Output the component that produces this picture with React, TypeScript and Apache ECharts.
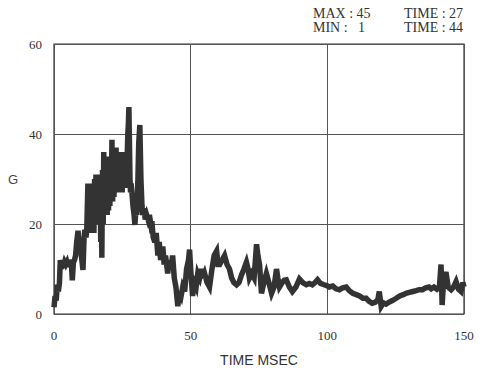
import React, { useEffect, useRef } from "react";
import * as echarts from "echarts";

const timeMs: number[] = [
  0, 0.4, 0.8, 1.2, 1.6, 2.0, 2.3, 2.7, 3.1, 3.5, 3.9, 4.3, 4.7, 5.1, 5.5, 5.9, 6.3, 6.7, 7.1, 7.5,
  7.9, 8.3, 8.8, 9.2, 9.6, 10.0, 10.6, 11.0, 11.3, 11.7,
  12.0, 12.2, 12.4, 12.6, 12.85, 13.1, 13.35, 13.6, 13.85, 14.1, 14.35, 14.6, 14.85, 15.1, 15.35, 15.6, 15.85, 16.1, 16.35, 16.6,
  16.85, 17.1, 17.35, 17.5, 17.75, 18.0, 18.2, 18.45, 18.7, 18.95, 19.2, 19.45, 19.7, 19.95, 20.2, 20.45, 20.7, 20.95, 21.2, 21.45,
  21.7, 21.95, 22.2, 22.45, 22.7, 22.95, 23.2, 23.45, 23.7, 23.95, 24.2, 24.45, 24.7, 24.95, 25.2, 25.45, 25.7, 25.95, 26.2, 26.45,
  26.7, 27.0, 27.2, 27.4, 27.6, 27.8, 28.0, 28.2, 28.5, 28.9, 29.3, 29.6, 30.0, 30.3, 30.7, 31.0, 31.4,
  31.8, 32.2, 32.5, 32.9, 33.4, 33.9, 34.4, 34.9, 35.4, 35.8, 36.3, 36.9, 37.4, 38.0, 38.5, 39.0, 39.8, 40.3, 40.8, 41.6,
  42.2, 42.8, 43.4, 44.0, 44.6, 45.3, 45.8, 46.5, 47.1, 47.8, 48.5, 49.2, 49.6, 50.1, 50.7, 51.3, 52.0, 52.6, 53.3, 54.0,
  54.5, 55.1, 56.0, 56.9, 57.8, 58.6, 59.5, 60.0, 60.6, 61.5, 62.4, 63.3, 64.2, 65.0, 65.8, 66.8, 67.7, 68.6, 69.5, 70.4,
  71.0, 71.5, 72.3, 73.2, 74.1, 74.6, 75.2, 75.9, 76.8, 77.7, 78.6, 79.6, 80.5, 81.4, 81.9, 82.5, 83.5, 84.2, 85.0, 86.1,
  87.2, 88.5, 89.8, 91.0, 92.3, 93.4, 94.5, 95.5, 96.4, 97.5, 98.8, 99.8, 100.7, 102.0, 103.2, 104.4, 105.6, 106.9, 108.0, 109.3,
  110.6, 111.8, 113.0, 114.2, 115.3, 116.4, 117.5, 118.5, 119.0, 119.7, 120.5, 121.5, 122.5, 123.8, 125.2, 126.5, 127.8, 128.8, 130.0, 131.3,
  132.5, 133.6, 134.8, 136.0, 137.2, 138.0, 139.0, 140.1, 141.0, 141.6, 142.0, 142.6, 143.4, 144.2, 145.3, 146.2, 147.1, 148.0, 148.9, 149.6,
  150,
];

const gValues: number[] = [
  1.5, 4, 3, 6.5, 5, 7, 12, 10, 12, 10.5, 11.5, 11, 11.5, 10.5, 12, 11, 12, 7.5, 11.5, 12,
  13, 16, 18.5, 14, 17, 13, 9.8, 17, 18.7, 17,
  19, 24, 29, 18, 27, 18.5, 26, 18, 28, 19, 29, 18, 30, 20, 31, 20.5, 29, 21, 28, 20,
  31, 16, 30, 12.5, 32, 20, 36, 22, 34, 23, 33, 22, 31, 23, 35, 24, 34, 26, 38.7, 25,
  36, 26, 34, 27, 37, 28, 36, 27, 33, 29, 35, 28, 34, 27, 36, 30, 34, 29, 35, 28,
  33, 40, 42, 46, 38, 30, 27, 29, 27, 24, 22, 19.8, 23.5, 22, 30, 38, 42,
  30, 24, 22, 23.5, 21, 22, 21, 22, 20, 20.6, 17, 16, 18, 13, 16, 12, 15, 11, 13, 9,
  12, 10, 13, 8, 6, 1.7, 5, 4, 6, 5, 10, 12, 14.3, 9, 4, 7, 6, 9, 8, 10,
  8, 9, 7, 6, 10, 13, 14, 11, 11, 12, 13, 11, 10, 8, 7, 6.5, 7, 8.7, 10, 11.5,
  10, 8, 9, 8, 15.5, 13, 11, 4.6, 7, 9, 7, 4.6, 6, 10, 8, 6, 7, 7.5, 7.6, 6,
  5, 6, 7.8, 7, 6.5, 6.8, 6.5, 7, 7.6, 6.8, 6.5, 6.3, 6, 6.2, 5.6, 5.4, 5.8, 6, 5.2, 4.6,
  4.3, 4, 3.5, 3.5, 2.8, 2.4, 2.6, 3.2, 5, 1.7, 2.5, 2.2, 2.6, 3, 3.5, 4, 4.3, 4.6, 4.8, 5,
  5.2, 5.4, 5.4, 5.8, 6, 5.6, 6, 5.5, 6, 11, 2, 8, 9.3, 6, 5.4, 6, 7.2, 5.5, 5, 7,
  6,
];

const xTicks: number[] = [0, 50, 100, 150];
const yTicks: number[] = [0, 20, 40, 60];
const statLines: string[][] = [
  ["MAX : 45", "TIME : 27"],
  ["MIN : \u20071", "TIME : 44"],
];

export default function App() {
  const ref = useRef<HTMLDivElement>(null);

  useEffect(() => {
    document.body.style.margin = "0";
    if (!ref.current) return;
    const chart = echarts.init(ref.current, null, { renderer: "svg" });
    const data = timeMs.map((t, i) => [t, gValues[i]]);
    const serif = "'Liberation Serif', 'DejaVu Serif', serif";
    const sans = "'Liberation Sans', Arial, sans-serif";
    chart.setOption({
      animation: false,
      backgroundColor: "#ffffff",
      grid: {
        left: 54,
        right: 16,
        top: 44,
        bottom: 54,
        show: true,
        borderColor: "#333",
        borderWidth: 1.2,
      },
      xAxis: {
        type: "value",
        min: xTicks[0],
        max: xTicks[xTicks.length - 1],
        interval: 50,
        name: "TIME MSEC",
        nameLocation: "middle",
        nameGap: 39,
        nameTextStyle: { fontFamily: sans, fontSize: 14, color: "#333" },
        axisLine: { show: false },
        axisTick: { show: false },
        axisLabel: { fontFamily: serif, fontSize: 13, color: "#333", margin: 15 },
        splitLine: { show: true, lineStyle: { color: "#555", width: 1 } },
      },
      yAxis: {
        type: "value",
        min: yTicks[0],
        max: yTicks[yTicks.length - 1],
        interval: 20,
        name: "G",
        nameLocation: "middle",
        nameRotate: 0,
        nameGap: 36,
        nameTextStyle: { fontFamily: sans, fontSize: 13, color: "#444" },
        axisLine: { show: false },
        axisTick: { show: false },
        axisLabel: { fontFamily: serif, fontSize: 13, color: "#333", margin: 12 },
        splitLine: { show: true, lineStyle: { color: "#555", width: 1 } },
      },
      graphic: statLines.flatMap((row, r) => [
        {
          type: "text",
          left: 313,
          top: 6 + r * 14,
          style: { text: row[0], font: `14px ${serif}`, fill: "#333" },
        },
        {
          type: "text",
          left: 404,
          top: 6 + r * 14,
          style: { text: row[1], font: `14px ${serif}`, fill: "#333" },
        },
      ]),
      series: [
        {
          type: "line",
          data,
          showSymbol: false,
          symbol: "none",
          lineStyle: { color: "#333", width: 5.5, join: "miter", cap: "butt" },
          clip: true,
        },
      ],
    });
    return () => chart.dispose();
  }, []);

  return <div ref={ref} style={{ width: 480, height: 372 }} />;
}

void React;
